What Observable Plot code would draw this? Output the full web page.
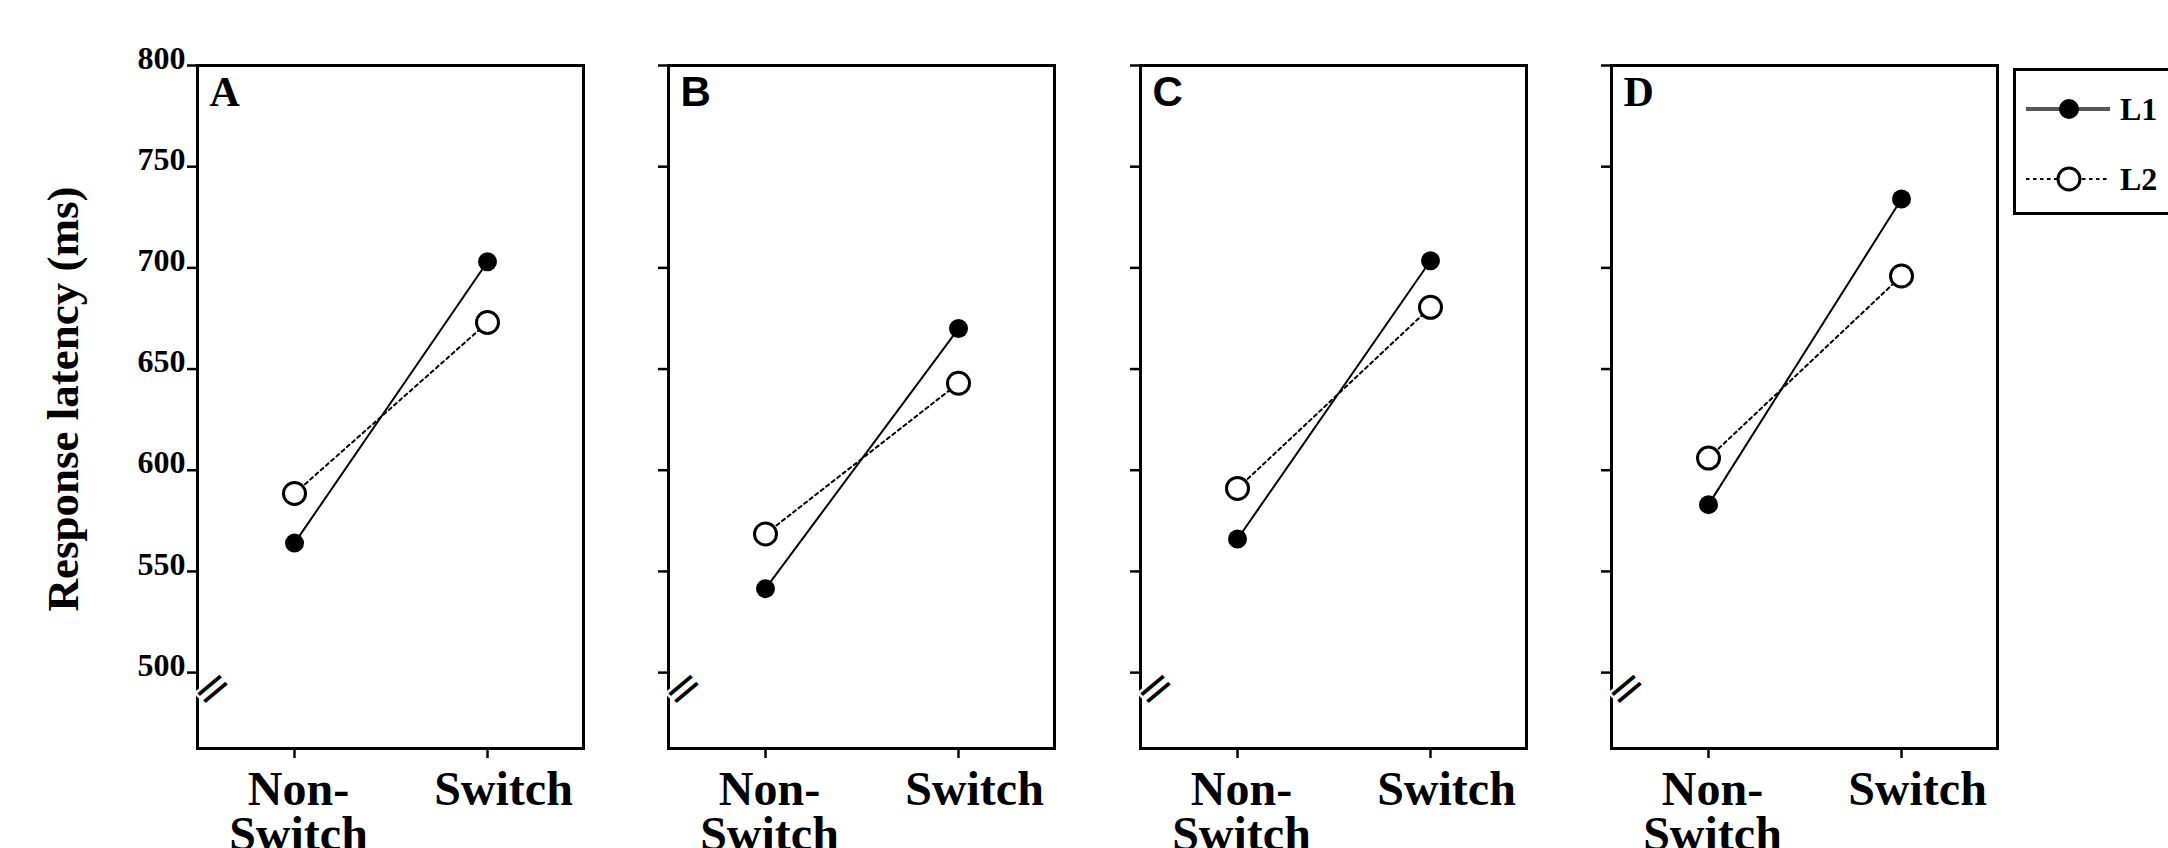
<!DOCTYPE html>
<html><head><meta charset="utf-8">
<script src="https://cdn.jsdelivr.net/npm/d3@7"></script>
<script src="https://cdn.jsdelivr.net/npm/@observablehq/plot@0.6"></script>
<style>
html,body{margin:0;padding:0;background:#fff;overflow:hidden}
#chart{position:relative;width:2168px;height:848px;overflow:hidden;background:#fff}
#chart > svg{position:absolute;top:0;overflow:visible}
</style></head><body><div id="chart"></div>
<script>
// ---- data ----
const panels = ["A", "B", "C", "D"];
const conditions = ["Non-Switch", "Switch"];
const conditionLabels = ["Non-\nSwitch", "Switch"];
const seriesNames = ["L1", "L2"];
const l1NonSwitch = [564, 541.5, 566, 583];
const l1Switch    = [703, 670, 703.5, 734];
const l2NonSwitch = [588.5, 568.5, 591, 606];
const l2Switch    = [673, 643, 680.5, 696];
const yTicks = [500, 550, 600, 650, 700, 750, 800];
const yDomain = [462.5, 800];
const axisBreak = [486];
const yLabel = "Response latency (ms)";

// ---- build table ----
const rows = panels.flatMap((p, i) => [
  {panel: p, series: "L1", condition: conditions[0], value: l1NonSwitch[i]},
  {panel: p, series: "L1", condition: conditions[1], value: l1Switch[i]},
  {panel: p, series: "L2", condition: conditions[0], value: l2NonSwitch[i]},
  {panel: p, series: "L2", condition: conditions[1], value: l2Switch[i]}
]);
const labelOf = new Map(conditions.map((c, i) => [c, conditionLabels[i]]));

// ---- layout / style ----
const SERIF = "'Liberation Serif', 'Times New Roman', serif";
const SANS = "'Liberation Sans', Arial, sans-serif";
const letterFont = {A: SERIF, B: SANS, C: SANS, D: SERIF};
const innerW = 386, step = 471.3, firstLeft = 197;
const chart = document.getElementById("chart");

panels.forEach((p, i) => {
  const first = i === 0;
  const ml = first ? firstLeft : 20, mr = 12;
  const data = rows.filter(d => d.panel === p);
  const marks = [
    Plot.frame({stroke: "black", strokeWidth: 3}),
    Plot.axisY(yTicks, {tickSize: 10, strokeWidth: 2.5, fill: "none", label: null}),
    Plot.axisX(conditions, {tickSize: 10, strokeWidth: 2.5, fill: "none", label: null}),
    Plot.axisX([conditions[0]], {tickSize: 0, tickPadding: 24, stroke: "none", fontSize: 48, fontWeight: "bold",
      tickFormat: d => labelOf.get(d), lineHeight: 0.94, dx: 4, label: null}),
    Plot.axisX([conditions[1]], {tickSize: 0, tickPadding: 24, stroke: "none", fontSize: 48, fontWeight: "bold",
      tickFormat: d => labelOf.get(d), lineHeight: 0.94, dx: 16, label: null}),
    Plot.text(axisBreak, {y: d => d, text: () => "=", frameAnchor: "left", rotate: -40, fontSize: 46,
      fontFamily: "'DejaVu Sans', sans-serif", fontWeight: "normal", fill: "black", stroke: "white",
      strokeWidth: 5, paintOrder: "stroke"}),
    Plot.line(data.filter(d => d.series === "L1"), {x: "condition", y: "value", stroke: "black", strokeWidth: 2}),
    Plot.line(data.filter(d => d.series === "L2"), {x: "condition", y: "value", stroke: "black", strokeWidth: 2,
      strokeDasharray: "3.5,3.5"}),
    Plot.dot(data.filter(d => d.series === "L1"), {x: "condition", y: "value", r: 9.5, fill: "black", stroke: "none"}),
    Plot.dot(data.filter(d => d.series === "L2"), {x: "condition", y: "value", r: 11, fill: "white", stroke: "black", strokeWidth: 3}),
    Plot.text([p], {text: d => d, frameAnchor: "top-left", dx: 12, dy: 11, lineAnchor: "top", textAnchor: "start",
      fontSize: 42, fontFamily: letterFont[p], fontWeight: "bold"})
  ];
  if (first) {
    marks.push(
      Plot.axisY(yTicks, {tickSize: 0, tickPadding: 12, stroke: "none", fontSize: 32, fontWeight: "bold", dy: -7, label: null}),
      Plot.text([yLabel], {text: d => d, frameAnchor: "left", rotate: -90, dx: -134, dy: -8, fontSize: 45,
        fontWeight: "bold", textAnchor: "middle", lineAnchor: "middle"})
    );
  }
  const svg = Plot.plot({
    width: ml + innerW + mr,
    height: 848,
    marginLeft: ml, marginRight: mr, marginTop: 65, marginBottom: 100,
    x: {type: "point", domain: conditions, padding: 0.5, axis: null},
    y: {domain: yDomain, axis: null},
    style: {fontFamily: SERIF, fontWeight: "bold", background: "transparent", color: "black", overflow: "visible"},
    marks
  });
  svg.style.left = (Math.round(firstLeft + i * step) - ml) + "px";
  chart.appendChild(svg);
});

// ---- legend (to the right of the panels) ----
const ns = "http://www.w3.org/2000/svg";
const leg = document.createElementNS(ns, "svg");
leg.setAttribute("width", 160); leg.setAttribute("height", 150);
leg.style.left = "2013px"; leg.style.top = "68px";
leg.innerHTML = `
  <rect x="1.5" y="1.5" width="300" height="144" fill="white" stroke="black" stroke-width="3"/>
  <line x1="13" x2="97" y1="41" y2="41" stroke="#555" stroke-width="4"/>
  <circle cx="56" cy="41" r="10" fill="black"/>
  <text x="107" y="52" font-family="${SERIF.replace(/'/g, "&quot;")}" font-weight="bold" font-size="32">${seriesNames[0]}</text>
  <line x1="13" x2="97" y1="111" y2="111" stroke="black" stroke-width="2" stroke-dasharray="3.5,3.5"/>
  <circle cx="56" cy="111" r="11" fill="white" stroke="black" stroke-width="3"/>
  <text x="107" y="122" font-family="${SERIF.replace(/'/g, "&quot;")}" font-weight="bold" font-size="32">${seriesNames[1]}</text>`;
chart.appendChild(leg);
</script>
</body></html>
